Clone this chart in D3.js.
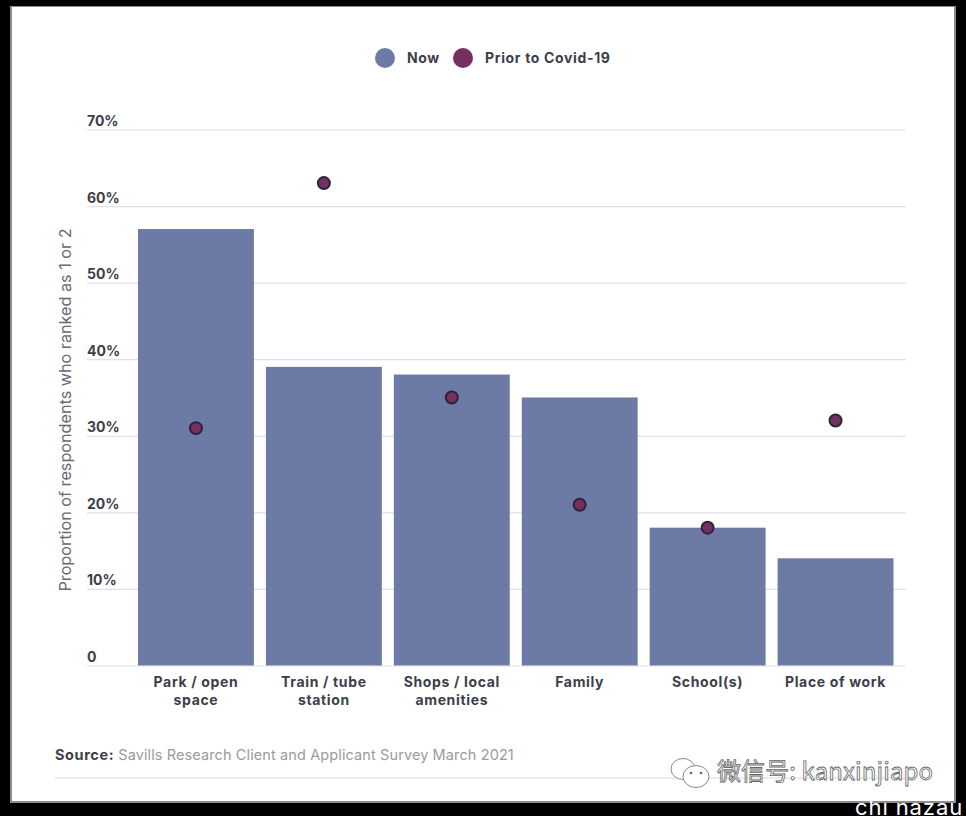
<!DOCTYPE html>
<html lang="en">

<head>
    <meta charset="UTF-8">
    <title>Savills survey chart</title>
    <script src="https://d3js.org/d3.v7.min.js"></script>
    <style>
        html, body {
            margin: 0;
            padding: 0;
            background: #000;
            overflow: hidden;
        }

        svg {
            display: block;
        }

        text {
            font-family: Inter, "Noto Sans", sans-serif;
        }

        .bold-label {
            font-weight: 700;
            font-size: 14px;
            fill: #3e3e48;
            letter-spacing: 0.65px;
        }

        .tick text {
            letter-spacing: 0;
        }
    </style>
</head>

<body>
    <svg id="chart" width="966" height="816"></svg>

    <script>
        // values
        const categories = [["Park / open", "space"], ["Train / tube", "station"], ["Shops / local", "amenities"], ["Family"], ["School(s)"], ["Place of work"]];
        const nowValues = [57, 39, 38, 35, 18, 14];
        const priorValues = [31, 63, 35, 21, 18, 32];
        const yTicks = [0, 10, 20, 30, 40, 50, 60, 70];
        const legendItems = ["Now", "Prior to Covid-19"];

        const svg = d3.select("#chart");

        // white sheet on black background
        svg.append("rect").attr("width", 966).attr("height", 816).attr("fill", "#000");
        svg.append("rect").attr("x", 10).attr("y", 6).attr("width", 946).attr("height", 797).attr("fill", "#8c8c8c");
        svg.append("rect").attr("x", 12).attr("y", 7).attr("width", 942).attr("height", 794).attr("fill", "#fff");

        const x = d3.scaleBand().domain(d3.range(categories.length)).range([132, 899.5]).paddingInner(0.094).paddingOuter(0.047);
        const y = d3.scaleLinear().domain([0, 70]).range([665.5, 129.5]);

        // grid lines
        const axis = svg.append("g")
            .attr("transform", "translate(87,0)")
            .call(d3.axisLeft(y).tickValues(yTicks).tickSize(-819).tickFormat(d => d === 0 ? "0" : d + "%"));
        axis.select(".domain").remove();
        axis.selectAll("line").attr("stroke", "#e0e0ea").attr("stroke-width", 1.2);
        axis.selectAll("text")
            .attr("class", "bold-label")
            .attr("text-anchor", "start")
            .attr("x", 0)
            .attr("dy", 0)
            .attr("y", -4);

        // bars
        svg.append("g").selectAll("rect")
            .data(nowValues)
            .enter().append("rect")
            .attr("x", (d, i) => x(i))
            .attr("y", d => y(d))
            .attr("width", x.bandwidth())
            .attr("height", d => y(0) - y(d))
            .attr("fill", "#6d7aa6");

        // prior to covid dots
        svg.append("g").selectAll("circle")
            .data(priorValues)
            .enter().append("circle")
            .attr("cx", (d, i) => x(i) + x.bandwidth() / 2)
            .attr("cy", d => y(d))
            .attr("r", 6)
            .attr("fill", "#76305f")
            .attr("stroke", "#2c2438")
            .attr("stroke-width", 2);

        // category labels
        const catLabels = svg.append("g").selectAll("text")
            .data(categories)
            .enter().append("text")
            .attr("class", "bold-label")
            .attr("text-anchor", "middle")
            .attr("y", 687);
        catLabels.selectAll("tspan")
            .data((d, i) => d.map(t => ({ t, i })))
            .enter().append("tspan")
            .attr("x", d => x(d.i) + x.bandwidth() / 2)
            .attr("dy", (d, j) => j === 0 ? 0 : 18)
            .text(d => d.t);

        // y axis title
        svg.append("text")
            .attr("transform", "translate(71,410) rotate(-90)")
            .attr("text-anchor", "middle")
            .attr("font-size", 16.2)
            .attr("fill", "#6a6a72")
            .text("Proportion of respondents who ranked as 1 or 2");

        // legend
        svg.append("circle").attr("cx", 385).attr("cy", 58).attr("r", 10).attr("fill", "#6d7aa6");
        svg.append("text").attr("class", "bold-label").attr("x", 407).attr("y", 63).text(legendItems[0]);
        svg.append("circle").attr("cx", 463).attr("cy", 58).attr("r", 10).attr("fill", "#76305f");
        svg.append("text").attr("class", "bold-label").attr("x", 485).attr("y", 63).text(legendItems[1]);

        // source
        const source = svg.append("text").attr("x", 55).attr("y", 760).attr("font-size", 14.5);
        source.append("tspan").attr("font-weight", 700).attr("fill", "#3e3e48").attr("letter-spacing", 0.6).text("Source: ");
        source.append("tspan").attr("fill", "#9a9aa2").attr("letter-spacing", 0.11).text("Savills Research Client and Applicant Survey March 2021");
        svg.append("line").attr("x1", 55).attr("x2", 906).attr("y1", 778).attr("y2", 778).attr("stroke", "#e4e4e8").attr("stroke-width", 1.5);

        // watermark
        const mark = svg.append("g").attr("fill", "#fff").attr("stroke", "#888").attr("stroke-width", 1);
        mark.append("ellipse").attr("cx", 683).attr("cy", 769).attr("rx", 12).attr("ry", 10.5);
        mark.append("ellipse").attr("cx", 696).attr("cy", 776.5).attr("rx", 13).attr("ry", 11);
        svg.append("g").attr("fill", "#666").selectAll("circle")
            .data([[691, 773], [701, 773]])
            .enter().append("circle")
            .attr("cx", d => d[0]).attr("cy", d => d[1]).attr("r", 1.3);
        svg.append("text")
            .attr("x", 717).attr("y", 780)
            .style("font-family", "'Noto Sans CJK SC'")
            .attr("font-size", 24)
            .attr("letter-spacing", 0.1)
            .attr("fill", "#fff")
            .attr("stroke", "#666")
            .attr("stroke-width", 0.8)
            .text("微信号: kanxinjiapo");

        // caption at the very bottom edge
        svg.append("text")
            .attr("x", 855).attr("y", 815)
            .attr("font-size", 22)
            .attr("letter-spacing", 0.9)
            .attr("fill", "#fff")
            .text("chi nazau");
    </script>
</body>

</html>
